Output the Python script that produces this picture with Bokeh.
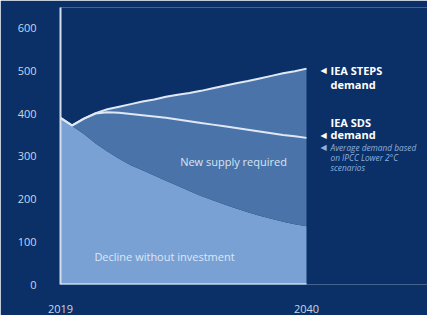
import numpy as np
from bokeh.plotting import figure
from bokeh.models import Range1d, FixedTicker, Label
from bokeh.embed import file_html
from bokeh.resources import INLINE

# ---- data ----
years = list(range(2019, 2041))
decline = [390, 371, 352, 330, 311, 294, 279, 267, 255, 243, 231,
           219, 207, 197, 187, 178, 169, 161, 154, 147, 141, 136]
steps = [390, 372, 388, 401, 410, 416, 422, 428, 433, 439, 444,
         448, 453, 459, 465, 471, 476, 482, 488, 494, 499, 505]
sds = [390, 372, 388, 400, 403, 402, 399, 396, 393, 390, 386,
       382, 378, 374, 370, 366, 362, 358, 354, 350, 347, 343]
y_ticks = [0, 100, 200, 300, 400, 500, 600]
x_ticks = [2019, 2040]

BG = "#0b3067"
LIGHT = "#79a1d4"
MID = "#4a74a9"
LINE = "#dfe8f4"
FONT = "Open Sans"

p = figure(width=427, height=315, output_backend="svg", toolbar_location=None,
           x_range=Range1d(2019, 2050.33), y_range=Range1d(0, 648),
           min_border_left=60, min_border_right=0, min_border_top=7,
           min_border_bottom=31, title=None)
p.background_fill_color = BG
p.border_fill_color = BG
p.outline_line_color = None
p.grid.visible = False

p.varea(x=years, y1=0, y2=decline, fill_color=LIGHT)
p.varea(x=years, y1=decline, y2=steps, fill_color=MID)
p.line(years, sds, line_color=LINE, line_width=2)
p.line(years, steps, line_color=LINE, line_width=2)
p.line([years[0], years[-1]], [0, 0], line_color="#d3deec", line_width=2.5)

# axes
p.yaxis.ticker = FixedTicker(ticks=y_ticks)
p.yaxis.axis_line_color = "#d3deec"
p.yaxis.axis_line_width = 2
p.yaxis.major_tick_line_color = None
p.yaxis.minor_tick_line_color = None
p.yaxis.major_label_standoff = 18
p.yaxis.major_label_text_color = "#c9d6e8"
p.yaxis.major_label_text_font_size = "11px"
p.yaxis.major_label_text_font = FONT

p.xaxis.ticker = FixedTicker(ticks=x_ticks)
p.xaxis.axis_line_color = None
p.xaxis.major_tick_line_color = None
p.xaxis.minor_tick_line_color = None
p.xaxis.major_label_standoff = 14
p.xaxis.major_label_text_color = "#c9d6e8"
p.xaxis.major_label_text_font_size = "11px"
p.xaxis.major_label_text_font = FONT


def lab(x, y, text, size="11px", color="white", style="normal", align="left", font=FONT):
    p.add_layout(Label(x=x, y=y, text=text, text_font=font, text_font_size=size,
                       text_color=color, text_font_style=style,
                       text_align=align, text_baseline="middle"))


lab(2042.05, 500.6, "IEA STEPS", style="bold")
lab(2042.05, 467.8, "demand", style="bold")
lab(2042.05, 379, "IEA SDS", style="bold")
lab(2042.05, 350.9, "demand", style="bold")
lab(2042.05, 320.5, "Average demand based", size="8.3px", color="#8fb1de", style="italic")
lab(2042.05, 297, "on IPCC Lower 2°C", size="8.3px", color="#8fb1de", style="italic")
lab(2042.05, 273.7, "scenarios", size="8.3px", color="#8fb1de", style="italic")
lab(2041.45, 500.6, "◀", size="8px", align="center", font="DejaVu Sans")
lab(2041.45, 348.5, "◀", size="8px", align="center", font="DejaVu Sans")
lab(2041.45, 320.5, "◀", size="8px", color="#8fb1de", align="center", font="DejaVu Sans")

lab(2033.77, 287.7, "New supply required", color="#d9e4f2", align="center")
lab(2027.88, 65.5, "Decline without investment", color="#dde7f4", align="center")

open("out.html", "w").write(file_html(p, INLINE))
